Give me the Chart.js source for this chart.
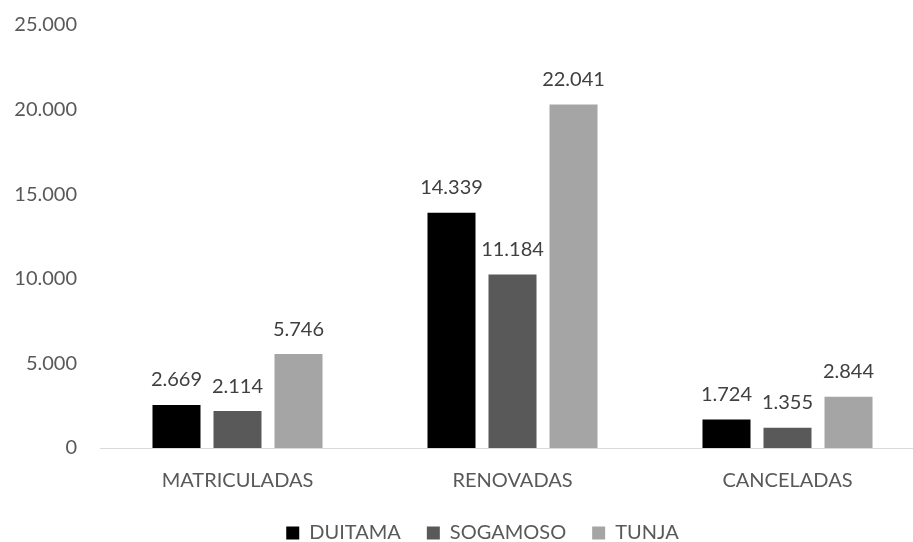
<!doctype html>
<html lang="es">

<head>
  <meta charset="utf-8">
  <title>matriculas</title>
  <style>
    html, body {
      margin: 0;
      padding: 0;
      overflow: hidden;
      background: #fff;
    }
    #wrap {
      width: 940px;
      height: 542px;
    }
  </style>
</head>

<body>
  <div id="wrap"><canvas id="chart"></canvas></div>

  <script src="https://cdn.jsdelivr.net/npm/chart.js@4.4.1/dist/chart.umd.min.js"></script>
  <script>

  const categories = ['MATRICULADAS', 'RENOVADAS', 'CANCELADAS'];

  // bar heights as drawn in the picture
  const duitama  = [2540, 13910, 1690];
  const sogamoso = [2180, 10250, 1200];
  const tunja    = [5550, 20300, 3030];

  // value labels printed above the bars
  const duitamaLabels  = ['2.669', '14.339', '1.724'];
  const sogamosoLabels = ['2.114', '11.184', '1.355'];
  const tunjaLabels    = ['5.746', '22.041', '2.844'];

  const yTicks = [0, 5000, 10000, 15000, 20000, 25000];

  Chart.defaults.font.family = 'Lato';
  Chart.defaults.font.size = 20;
  Chart.defaults.color = '#595959';

  // draws the text labels above each bar
  const barLabels = {
    id: 'barLabels',
    afterLayout(chart) {
      // let the y tick labels run left of the (narrow) axis box
      chart.scales.y.left = 0;
    },
    afterDatasetsDraw(chart) {
      let ctx = chart.ctx;
      ctx.save();
      ctx.font = '20px Lato';
      ctx.fillStyle = '#404040';
      ctx.textAlign = 'center';
      ctx.textBaseline = 'middle';
      chart.data.datasets.forEach((ds, i) => {
        chart.getDatasetMeta(i).data.forEach((bar, j) => {
          ctx.fillText(ds.valueLabels[j], bar.x, bar.y - 25);
        });
      });
      ctx.restore();
    }
  };

  function thousands(v) {
    return String(v).replace(/\B(?=(\d{3})+(?!\d))/g, '.');
  }

  let ctx = document.getElementById('chart').getContext('2d');

  let chart = new Chart(ctx, {
    type: 'bar',
    data: {
      labels: categories,
      datasets: [
        { label: 'DUITAMA', data: duitama, backgroundColor: '#000000', valueLabels: duitamaLabels },
        { label: 'SOGAMOSO', data: sogamoso, backgroundColor: '#595959', valueLabels: sogamosoLabels },
        { label: 'TUNJA', data: tunja, backgroundColor: '#a5a5a5', valueLabels: tunjaLabels },
      ],
    },
    options: {
      responsive: true,
      maintainAspectRatio: false,
      animation: false,
      categoryPercentage: 0.6655,
      barPercentage: 0.787,
      layout: {
        padding: { top: 15, left: 40, right: 15, bottom: 1 },
      },
      scales: {
        x: {
          afterFit(scale) { scale.height = 49; },
          grid: { display: false, drawTicks: false },
          border: { display: true, color: '#d9d9d9', width: 1 },
          ticks: { padding: 21, color: '#595959' },
        },
        y: {
          min: 0,
          max: 25000,
          afterFit(scale) { scale.width = 60; },
          afterBuildTicks(scale) { scale.ticks = yTicks.map(v => ({ value: v })); },
          grid: { display: false, drawTicks: true, tickLength: 10 },
          border: { display: false },
          ticks: {
            padding: 13,
            color: '#595959',
            callback: v => thousands(v),
          },
        },
      },
      plugins: {
        legend: {
          position: 'bottom',
          maxHeight: 44,
          labels: {
            boxWidth: 13,
            boxHeight: 13,
            padding: 26,
            color: '#595959',
          },
        },
        tooltip: { enabled: false },
      },
    },
    plugins: [barLabels],
  });
  </script>

</body>
</html>
